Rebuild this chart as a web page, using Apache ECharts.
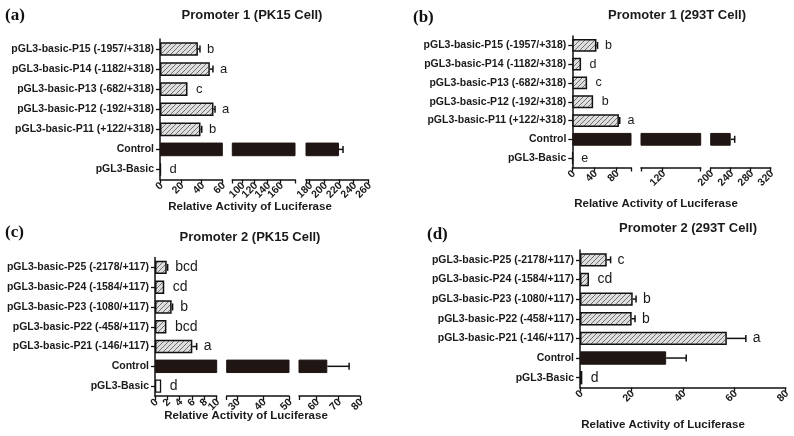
<!DOCTYPE html>
<html>
<head>
<meta charset="utf-8">
<script src="https://cdn.jsdelivr.net/npm/echarts@6/dist/echarts.min.js"></script>
<style>html,body{margin:0;padding:0;background:#fff}#c{width:794px;height:436px}</style>
</head>
<body>
<div id="c"></div>
<script>
// ---------- DATA ----------
const catsP1 = ['pGL3-basic-P15 (-1957/+318)', 'pGL3-basic-P14 (-1182/+318)', 'pGL3-basic-P13 (-682/+318)', 'pGL3-basic-P12 (-192/+318)', 'pGL3-basic-P11 (+122/+318)', 'Control', 'pGL3-Basic'];
const catsP2 = ['pGL3-basic-P25 (-2178/+117)', 'pGL3-basic-P24 (-1584/+117)', 'pGL3-basic-P23 (-1080/+117)', 'pGL3-basic-P22 (-458/+117)', 'pGL3-basic-P21 (-146/+117)', 'Control', 'pGL3-Basic'];

const valuesA = [36.5, 48, 26.5, 51.5, 39, 220, 1];
const errA = [2, 3, 0.5, 1.5, 1.2, 5.5, 0.3];
const lettersA = ['b', 'a', 'c', 'a', 'b', '', 'd'];

const valuesB = [44, 16, 27, 38, 85, 240, 1];
const errB = [2, 1, 1, 1, 1.5, 8, 0.3];
const lettersB = ['b', 'd', 'c', 'b', 'a', '', 'e'];

const valuesC = [1.9, 1.5, 2.7, 1.85, 6.05, 65, 1];
const errC = [0.15, 0.1, 0.15, 0.1, 0.7, 10, 0.05];
const lettersC = ['bcd', 'cd', 'b', 'bcd', 'a', '', 'd'];

const valuesD = [10.4, 3.5, 20.5, 20.1, 57.1, 33.5, 0.9];
const errD = [1.5, 0.3, 1.3, 1.3, 7.4, 7.8, 0.1];
const lettersD = ['c', 'cd', 'b', 'b', 'a', '', 'd'];

// broken-axis segment ranges and tick labels
const segRangesA = [[0, 60], [85, 183], [175, 260]];
const tickLabelsA = [[0, 20, 40, 60], [100, 120, 140, 160], [180, 200, 220, 240, 260]];
const segRangesB = [[0, 107], [80, 190], [200, 320]];
const tickLabelsB = [[0, 40, 80], [120], [200, 240, 280, 320]];
const segRangesC = [[0, 10], [26, 50], [52, 80]];
const tickLabelsC = [[0, 2, 4, 6, 8, 10], [30, 40, 50], [60, 70, 80]];
const segRangesD = [[0, 80]];
const tickLabelsD = [[0, 20, 40, 60, 80]];

const titles = ['Promoter 1 (PK15 Cell)', 'Promoter 1 (293T Cell)', 'Promoter 2 (PK15 Cell)', 'Promoter 2 (293T Cell)'];
const panelTags = ['(a)', '(b)', '(c)', '(d)'];
const xTitle = 'Relative Activity of Luciferase';

// ---------- LAYOUT ----------
const panels = [
  {cats: catsP1, vals: valuesA, errs: errA, letters: lettersA, ranges: segRangesA, labels: tickLabelsA,
   top: 39, bottom: 179.5, segX: [[160, 222.3], [232.3, 295], [306, 368.3]], letterSize: 13,
   title: [252, 15], tag: [5, 16], xt: [250, 207]},
  {cats: catsP1, vals: valuesB, errs: errB, letters: lettersB, ranges: segRangesB, labels: tickLabelsB,
   top: 36, bottom: 167.5, segX: [[572.3, 631], [641, 700.7], [710.7, 770.7]], letterSize: 12.5,
   title: [677, 15], tag: [413, 18], xt: [656, 204]},
  {cats: catsP2, vals: valuesC, errs: errC, letters: lettersC, ranges: segRangesC, labels: tickLabelsC,
   top: 257.5, bottom: 396, segX: [[155, 216.7], [226.7, 289], [299, 360]], letterSize: 14,
   title: [250, 237], tag: [5, 233], xt: [246, 416]},
  {cats: catsP2, vals: valuesD, errs: errD, letters: lettersD, ranges: segRangesD, labels: tickLabelsD,
   top: 250, bottom: 387.5, segX: [[580, 785.7]], letterSize: 14,
   title: [688, 228], tag: [427, 235], xt: [663, 425]}
];

// hatch pattern
const hatch = document.createElement('canvas');
hatch.width = 5; hatch.height = 5;
(function () {
  const g = hatch.getContext('2d');
  g.fillStyle = '#dedede'; g.fillRect(0, 0, 5, 5);
  g.strokeStyle = '#707070'; g.lineWidth = 1;
  g.beginPath();
  g.moveTo(0, 5); g.lineTo(5, 0);
  g.moveTo(-1, 1); g.lineTo(1, -1);
  g.moveTo(4, 6); g.lineTo(6, 4);
  g.stroke();
})();
const hatchFill = {image: hatch, repeat: 'repeat'};
const DARK = '#1f1512';
const FONT = '"Liberation Sans", Arial, sans-serif';

function barStyle(i) {
  if (i === 5) return {color: DARK, borderColor: DARK, borderWidth: 1};
  if (i === 6) return {color: '#ffffff', borderColor: '#111', borderWidth: 1.3};
  return {color: hatchFill, borderColor: '#111', borderWidth: 1.5};
}

const grid = [], xAxis = [], yAxis = [], series = [], graphic = [];

panels.forEach((p, pi) => {
  const nSeg = p.ranges.length;
  const segOf = p.vals.map(v => {
    for (let s = 0; s < nSeg; s++) if (v <= p.ranges[s][1]) return s;
    return nSeg - 1;
  });
  for (let s = 0; s < nSeg; s++) {
    const gi = grid.length;
    const [L, R] = p.segX[s];
    grid.push({left: L, top: p.top, width: R - L, height: p.bottom - p.top, containLabel: false});
    const r = p.ranges[s];
    xAxis.push({
      type: 'value', gridIndex: gi, min: r[0], max: r[1],
      axisLine: {show: true, lineStyle: {color: '#111', width: 1.5}},
      axisTick: {show: true, length: 4, lineStyle: {color: '#111', width: 1.3},
        customValues: [r[0]].concat(p.labels[s].filter(v => v > r[0] && v < r[1])).concat([r[1]])},
      axisLabel: {show: false},
      splitLine: {show: false}
    });
    yAxis.push({
      type: 'category', gridIndex: gi, data: p.cats, inverse: true, show: s === 0,
      axisLine: {show: true, lineStyle: {color: '#111', width: 1.5}},
      axisTick: {show: true, alignWithLabel: true, length: 4, lineStyle: {color: '#111', width: 1.3}},
      axisLabel: {margin: 6, fontSize: 10.5, fontWeight: 'bold', color: '#1a1a1a', fontFamily: FONT},
      splitLine: {show: false}
    });
    const barData = p.vals.map((v, i) => {
      if (s > 0 && v <= p.ranges[s - 1][1]) return '-';
      return {value: v, itemStyle: barStyle(i)};
    });
    series.push({
      type: 'bar', xAxisIndex: gi, yAxisIndex: gi, data: barData, barWidth: '68%',
      clip: true, silent: true, animation: false
    });
    // rotated tick labels, positioned through the segment's value axis
    series.push({
      type: 'custom', xAxisIndex: gi, yAxisIndex: gi, animation: false, silent: true, clip: false,
      data: p.labels[s].map(v => [v, 0]),
      renderItem: function (params, api) {
        const v = api.value(0);
        const x = api.coord([v, 0])[0];
        const cs = params.coordSys;
        const y = cs.y + cs.height;
        return {type: 'text', x: x + 1.5, y: y + 4.5, rotation: Math.PI / 4,
          style: {text: String(v), fill: '#1a1a1a', font: 'bold 10.5px ' + FONT, align: 'right', verticalAlign: 'middle'}};
      }
    });
    const errData = [];
    p.vals.forEach((v, i) => { if (segOf[i] === s) errData.push([v, i, p.errs[i]]); });
    const letters = p.letters, lsize = p.letterSize;
    series.push({
      type: 'custom', xAxisIndex: gi, yAxisIndex: gi, data: errData, animation: false, silent: true,
      clip: false,
      renderItem: function (params, api) {
        const v = api.value(0), idx = api.value(1), e = api.value(2);
        const p1 = api.coord([v, idx]);
        const p2 = api.coord([v + e, idx]);
        const children = [];
        if (e > 0 && p2[0] - p1[0] > 0.8) {
          children.push({type: 'line', shape: {x1: p1[0], y1: p1[1], x2: p2[0], y2: p2[1]},
            style: {stroke: '#111', lineWidth: 1.5}});
          children.push({type: 'line', shape: {x1: p2[0], y1: p2[1] - 3.5, x2: p2[0], y2: p2[1] + 3.5},
            style: {stroke: '#111', lineWidth: 1.5}});
        }
        const t = letters[idx];
        if (t) {
          children.push({type: 'text', x: Math.max(p2[0], p1[0] + 1.5) + 7, y: p1[1],
            style: {text: t, fill: '#1a1a1a', font: lsize + 'px ' + FONT, align: 'left', verticalAlign: 'middle'}});
        }
        return {type: 'group', children: children};
      }
    });
  }
  graphic.push({type: 'text', x: p.title[0], y: p.title[1],
    style: {text: titles[pi], font: 'bold 13px ' + FONT, fill: '#1a1a1a', align: 'center', verticalAlign: 'middle'}});
  graphic.push({type: 'text', x: p.tag[0], y: p.tag[1],
    style: {text: panelTags[pi], font: 'bold 17px "Liberation Serif", "Times New Roman", serif', fill: '#111', align: 'left', verticalAlign: 'middle'}});
  graphic.push({type: 'text', x: p.xt[0], y: p.xt[1],
    style: {text: xTitle, font: 'bold 11.5px ' + FONT, fill: '#1a1a1a', align: 'center', verticalAlign: 'middle'}});
});

const chart = echarts.init(document.getElementById('c'), null, {renderer: 'canvas'});
chart.setOption({backgroundColor: '#fff', animation: false, grid, xAxis, yAxis, series, graphic});
</script>
</body>
</html>
